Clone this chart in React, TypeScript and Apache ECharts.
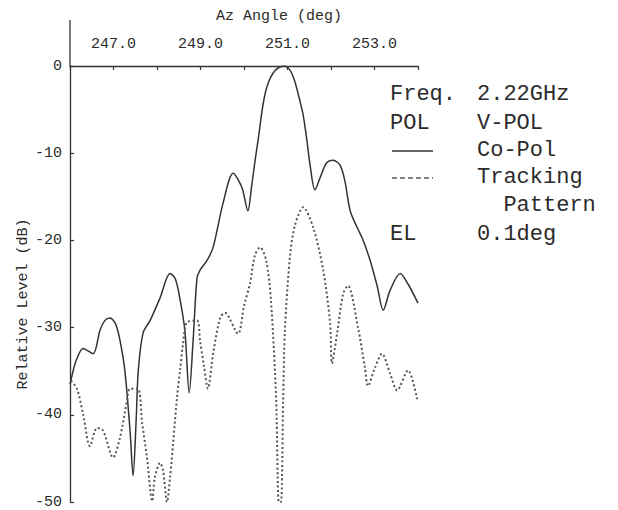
import React, { useEffect, useRef } from "react";
import * as echarts from "echarts";

// Co-Pol (solid) pattern
const azCoPol = [
  246.0, 246.07, 246.14, 246.3, 246.53, 246.69, 246.8, 246.92, 247.05, 247.15,
  247.26, 247.38, 247.45, 247.52, 247.57, 247.68, 247.84, 248.07, 248.3, 248.42,
  248.52, 248.64, 248.74, 248.83, 248.92, 248.99, 249.15, 249.29, 249.52, 249.75,
  249.95, 250.09, 250.17, 250.25, 250.33, 250.41, 250.48, 250.56, 250.67, 250.79,
  250.92, 251.06, 251.17, 251.29, 251.36, 251.44, 251.52, 251.63, 251.75, 251.9,
  252.05, 252.21, 252.32, 252.44, 252.6, 252.74, 252.9, 253.06, 253.2, 253.36,
  253.59, 253.77, 254.0,
];
const dbCoPol = [
  -36.5, -35.0, -33.8, -32.4, -33.0, -30.3, -29.2, -28.9, -29.6, -31.5,
  -34.9, -41.8, -47.0, -40.7, -34.9, -30.6, -29.2, -26.6, -23.8, -24.4,
  -26.5, -30.3, -37.5, -31.5, -24.3, -23.4, -22.3, -20.8, -15.7, -12.3,
  -13.9, -16.6, -14.0, -11.0, -8.3, -5.3, -3.3, -1.9, -0.8, -0.2,
  0.0, -0.5, -1.8, -4.1, -5.6, -8.3, -11.4, -14.2, -12.8, -11.1,
  -10.8, -11.4, -13.2, -16.6, -18.5, -20.0, -22.3, -25.2, -28.0, -25.7,
  -23.8, -25.0, -27.2,
];

// Tracking pattern (dotted)
const azTrack = [
  246.02, 246.16, 246.3, 246.46, 246.62, 246.76, 246.99, 247.15, 247.31, 247.38,
  247.56, 247.66, 247.77, 247.89, 247.95, 248.07, 248.14, 248.23, 248.3, 248.37,
  248.46, 248.53, 248.6, 248.69, 248.92, 248.99, 249.08, 249.17, 249.29, 249.45,
  249.56, 249.86, 250.0, 250.14, 250.25, 250.37, 250.51, 250.62, 250.74, 250.8,
  250.85, 250.9, 250.94, 251.06, 251.17, 251.36, 251.59, 251.82, 251.98, 252.02,
  252.14, 252.28, 252.39, 252.62, 252.78, 252.85, 253.01, 253.17, 253.36, 253.52,
  253.77, 253.98,
];
const dbTrack = [
  -36.1, -37.0, -39.9, -43.6, -41.5, -41.8, -44.9, -42.6, -38.4, -37.0,
  -37.0, -41.0, -44.9, -49.9, -47.2, -45.5, -46.4, -50.0, -47.2, -43.3,
  -38.0, -34.9, -31.8, -29.4, -29.2, -31.5, -34.4, -37.0, -33.0, -28.9,
  -28.3, -30.7, -27.5, -24.9, -21.7, -20.8, -22.3, -26.9, -38.4, -50.0,
  -50.0, -38.4, -30.3, -21.7, -18.3, -16.2, -18.5, -23.4, -29.5, -34.1,
  -30.7, -26.1, -25.2, -30.0, -34.6, -36.7, -34.6, -33.0, -35.3, -37.2,
  -34.9, -38.2,
];

const xLabelValues = [247, 249, 251, 253];
const legendRows = [
  ["Freq.", "2.22GHz"],
  ["POL", "V-POL"],
  ["", "Co-Pol"],
  ["", "Tracking"],
  ["", "  Pattern"],
  ["EL", "0.1deg"],
];

const FONT = '"Liberation Mono", "DejaVu Sans Mono", monospace';
const INK = "#2b2b2b";

export default function App() {
  const ref = useRef<HTMLDivElement>(null);
  useEffect(() => {
    if (!ref.current) return;
    const chart = echarts.init(ref.current, undefined, { renderer: "svg" });
    const rowY = [94, 123, 150, 177, 205, 234];
    const legendTexts: any[] = [];
    legendRows.forEach((r, i) => {
      if (r[0]) {
        legendTexts.push({
          type: "text",
          x: 390,
          y: rowY[i],
          style: { text: r[0], font: `22px ${FONT}`, fill: INK, textAlign: "left", textVerticalAlign: "middle", align: "left", verticalAlign: "middle" },
        });
      }
      legendTexts.push({
        type: "text",
        x: 477,
        y: rowY[i],
        style: { text: r[1], font: `22px ${FONT}`, fill: INK, textAlign: "left", textVerticalAlign: "middle", align: "left", verticalAlign: "middle" },
      });
    });
    chart.setOption({
      animation: false,
      backgroundColor: "#fff",
      grid: { left: 70, right: 200, top: 66, bottom: 8 },
      xAxis: {
        type: "value",
        position: "top",
        min: 246,
        max: 254,
        interval: 1,
        splitLine: { show: false },
        axisLine: { lineStyle: { color: "#333", width: 1.3 } },
        axisTick: { inside: true, length: 4, lineStyle: { color: "#333", width: 1.2 } },
        axisLabel: {
          customValues: xLabelValues,
          formatter: (v: number) => v.toFixed(1),
          color: INK,
          fontFamily: FONT,
          fontSize: 15,
          margin: 14,
        },
      },
      yAxis: {
        type: "value",
        min: -50,
        max: 0,
        interval: 10,
        splitLine: { show: false },
        axisLine: { lineStyle: { color: "#333", width: 1.3 } },
        axisTick: { inside: true, length: 4, lineStyle: { color: "#333", width: 1.2 } },
        axisLabel: { color: INK, fontFamily: FONT, fontSize: 15, margin: 8 },
      },
      series: [
        {
          type: "line",
          name: "Co-Pol",
          showSymbol: false,
          smooth: 0.3,
          data: azCoPol.map((a, i) => [a, dbCoPol[i]]),
          lineStyle: { color: "#333", width: 1.5 },
        },
        {
          type: "line",
          name: "Tracking Pattern",
          showSymbol: false,
          smooth: 0.3,
          data: azTrack.map((a, i) => [a, dbTrack[i]]),
          lineStyle: { color: "#555", width: 2, type: [2, 2.5] },
        },
      ],
      graphic: [
        { type: "line", shape: { x1: 70, y1: 20, x2: 70, y2: 66 }, style: { stroke: "#333", lineWidth: 1.3 } },
        {
          type: "text",
          x: 279,
          y: 16,
          style: { text: "Az Angle (deg)", font: `15px ${FONT}`, fill: INK, textAlign: "center", textVerticalAlign: "middle", align: "center", verticalAlign: "middle" },
        },
        {
          type: "text",
          x: 23,
          y: 304,
          rotation: Math.PI / 2,
          style: { text: "Relative Level (dB)", font: `15px ${FONT}`, fill: INK, textAlign: "center", textVerticalAlign: "middle", align: "center", verticalAlign: "middle" },
        },
        { type: "line", shape: { x1: 392, y1: 151, x2: 433, y2: 151 }, style: { stroke: "#333", lineWidth: 1.5 } },
        { type: "line", shape: { x1: 392, y1: 178, x2: 433, y2: 178 }, style: { stroke: "#555", lineWidth: 1.5, lineDash: [5, 3] } },
        ...legendTexts,
      ],
    });
    return () => chart.dispose();
  }, []);
  return (
    <div
      ref={ref}
      style={{ position: "fixed", left: 0, top: 0, width: 618, height: 510, background: "#fff" }}
    />
  );
}
